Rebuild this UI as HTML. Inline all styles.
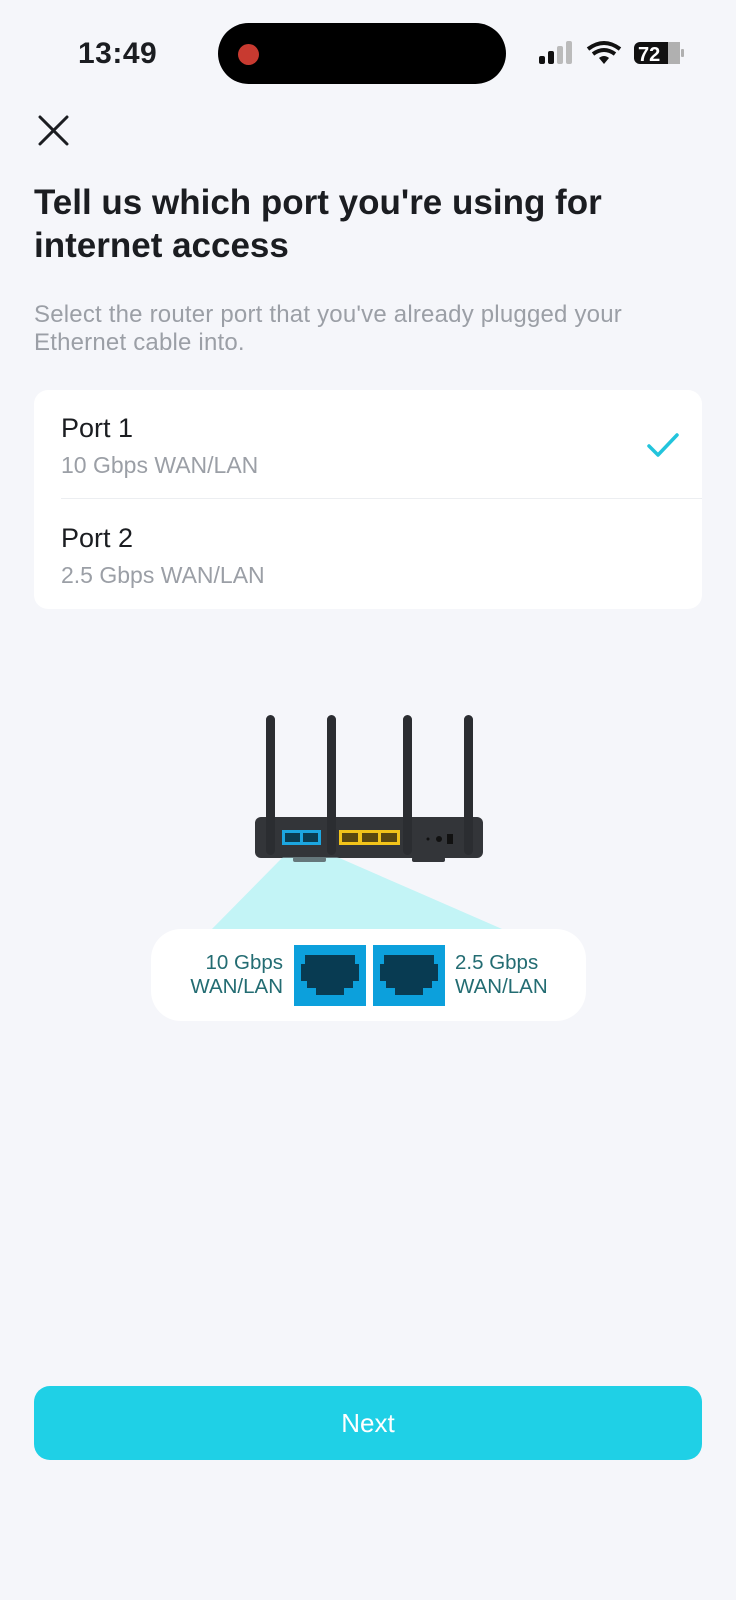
<!DOCTYPE html>
<html><head><meta charset="utf-8"><style>
*{margin:0;padding:0;box-sizing:border-box}
body{width:736px;height:1600px;background:#f5f6fa;position:relative;overflow:hidden;font-family:"Liberation Sans",sans-serif;color:#1b1d21}
.a{position:absolute}
</style></head><body>
<div class="a" style="left:78px;top:37px;font-size:30px;font-weight:bold;letter-spacing:0.5px">13:49</div>
<div class="a" style="left:218px;top:23px;width:288px;height:61px;background:#000;border-radius:31px"></div>
<div class="a" style="left:238px;top:44px;width:21px;height:21px;background:#c83a30;border-radius:50%"></div>
<svg class="a" style="left:536px;top:40px" width="150" height="30">
<rect x="3" y="16" width="6" height="8" rx="2" fill="#111"/><rect x="12" y="11" width="6" height="13" rx="2" fill="#111"/><rect x="21" y="6" width="6" height="18" rx="2" fill="#bbb"/><rect x="30" y="1" width="6" height="23" rx="2" fill="#bbb"/>
<path d="M52 9 Q68 -3 84 9" stroke="#111" stroke-width="4" fill="none"/><path d="M57 14 Q68 6 79 14" stroke="#111" stroke-width="4" fill="none"/><path d="M63 18 L68 24 L73 18 Q68 14 63 18Z" fill="#111"/>
<rect x="98" y="2" width="46" height="22" rx="6" fill="#111"/><rect x="132" y="2" width="12" height="22" fill="#b0b0b0"/><rect x="145" y="9" width="3" height="8" rx="1" fill="#b0b0b0"/>
<text x="102" y="21" font-family="Liberation Sans" font-weight="bold" font-size="20" fill="#fff">72</text>
</svg>
<svg class="a" style="left:38px;top:115px" width="32" height="32"><path d="M2 2L29 29M29 2L2 29" stroke="#1b1d21" stroke-width="3" stroke-linecap="round"/></svg>
<div class="a" style="left:34px;top:181px;font-size:35px;font-weight:bold;line-height:43px;width:700px;white-space:nowrap">Tell us which port you're using for<br>internet access</div>
<div class="a" style="left:34px;top:301px;font-size:24px;color:#9b9fa6;line-height:28px;white-space:nowrap;letter-spacing:0.2px">Select the router port that you've already plugged your<br>Ethernet cable into.</div>
<div class="a" style="left:34px;top:390px;width:668px;height:219px;background:#fff;border-radius:14px"></div>
<div class="a" style="left:61px;top:413px;font-size:27px">Port 1</div>
<div class="a" style="left:61px;top:452px;font-size:23px;color:#9b9fa6">10 Gbps WAN/LAN</div>
<div class="a" style="left:61px;top:498px;width:641px;height:1px;background:#eceef1"></div>
<div class="a" style="left:61px;top:523px;font-size:27px">Port 2</div>
<div class="a" style="left:61px;top:562px;font-size:23px;color:#9b9fa6">2.5 Gbps WAN/LAN</div>
<svg class="a" style="left:646px;top:432px" width="34" height="28"><path d="M3 14L12 23L31 3" stroke="#22c4dc" stroke-width="3.5" fill="none" stroke-linecap="round" stroke-linejoin="round"/></svg>
<svg class="a" style="left:0;top:700px" width="736" height="340">
<polygon points="283,157 337,157 502,229 212,229" fill="#c4f4f6"/>
<rect x="255" y="117" width="228" height="41" rx="6" fill="#333539"/>
<rect x="266" y="15" width="9" height="140" rx="4.5" fill="#2b2d31"/>
<rect x="327" y="15" width="9" height="140" rx="4.5" fill="#2b2d31"/>
<rect x="403" y="15" width="9" height="140" rx="4.5" fill="#2b2d31"/>
<rect x="464" y="15" width="9" height="140" rx="4.5" fill="#2b2d31"/>
<rect x="293" y="157" width="33" height="5" rx="2" fill="#333539"/>
<rect x="412" y="157" width="33" height="5" rx="2" fill="#333539"/>
<rect x="282" y="130" width="39" height="15" fill="#1ca6e0"/>
<rect x="285" y="133" width="15" height="9" fill="#0a3d52"/><rect x="303" y="133" width="15" height="9" fill="#0a3d52"/>
<rect x="339" y="130" width="61" height="15" fill="#f3c41a"/>
<rect x="342" y="133" width="16" height="9" fill="#5a4810"/><rect x="362" y="133" width="16" height="9" fill="#5a4810"/><rect x="381" y="133" width="16" height="9" fill="#5a4810"/>
<circle cx="428" cy="139" r="1.5" fill="#111"/><circle cx="439" cy="139" r="3" fill="#111"/><rect x="447" y="134" width="6" height="10" fill="#111"/>
<polygon points="283,157 337,157 502,229 212,229" fill="#c4f4f6" opacity="0.35"/>
</svg>
<div class="a" style="left:151px;top:929px;width:435px;height:92px;background:#fff;border-radius:30px"></div>
<div class="a" style="left:150px;top:951px;width:133px;text-align:right;font-size:20.5px;color:#236c72;line-height:24px">10 Gbps<br>WAN/LAN</div>
<div class="a" style="left:455px;top:951px;font-size:20.5px;color:#236c72;line-height:24px">2.5 Gbps<br>WAN/LAN</div>
<svg class="a" style="left:294px;top:945px" width="151" height="62">
<rect x="0" y="0" width="72" height="61" fill="#0ca0dc"/><rect x="79" y="0" width="72" height="61" fill="#0ca0dc"/>
<path d="M11 10H61V19H65V36H59V43H50V50H22V43H13V36H7V19H11Z" fill="#083b52"/>
<path d="M11 10H61V19H65V36H59V43H50V50H22V43H13V36H7V19H11Z" fill="#083b52" transform="translate(79,0)"/>
</svg>
<div class="a" style="left:34px;top:1386px;width:668px;height:74px;background:#1fd0e6;border-radius:16px;color:#fff;font-size:26px;text-align:center;line-height:74px">Next</div>
</body></html>
